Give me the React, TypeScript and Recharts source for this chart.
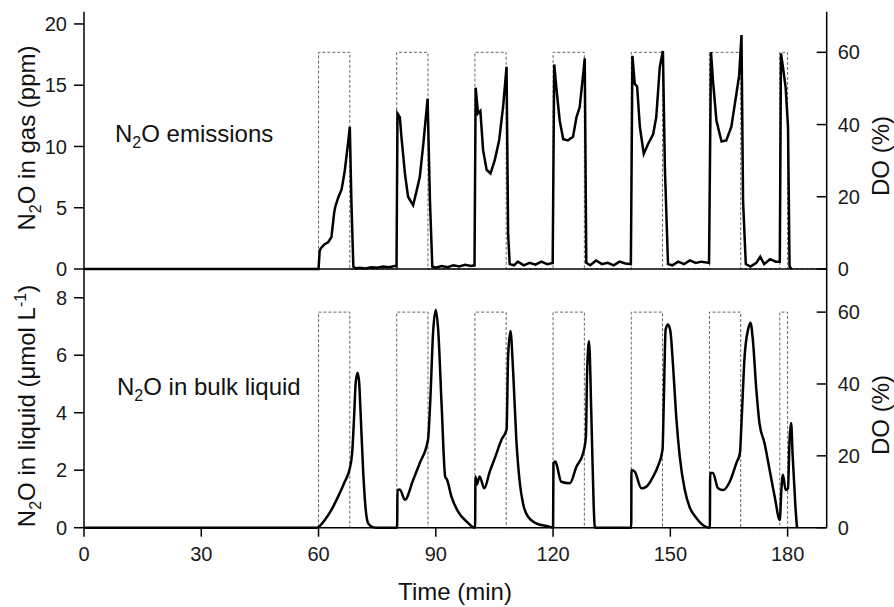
import React from "react";
import { ComposedChart, Line, XAxis, YAxis, Customized } from "recharts";

const FONT = "'Liberation Sans', Arial, Helvetica, sans-serif";

// time axis ticks
const timeTicks = [0, 30, 60, 90, 120, 150, 180];
const gasTicks = [0, 5, 10, 15, 20];
const liqTicks = [0, 2, 4, 6, 8];
const doTicks = [0, 20, 40, 60];

// N2O in gas (ppm)
const gasTime = [
  0, 60, 60.3, 60.6, 61.5, 62.5, 63.3, 64.0, 64.3, 65.0, 65.9, 66.7, 67.6, 68.0, 68.4, 68.9, 69.5, 70.5, 72, 73.5, 75, 76.5, 78, 79.5, 79.95,
  80.2, 80.8, 81.2, 82.1, 82.9, 84.2, 85.1, 85.9, 86.8, 87.9, 88.5, 89.1, 90, 91.5, 93, 94.5, 96, 97.5, 99, 99.9,
  100.2, 100.8, 101.4, 102.1, 103.0, 104.0, 105.1, 106.2, 107.2, 108.1, 108.5, 108.9, 110, 111, 112.5, 114, 115.5, 117, 118.5, 119.9,
  120.3, 120.9, 121.7, 122.6, 123.8, 125.1, 126.0, 126.8, 127.7, 128.1, 128.5, 129.5, 131, 132.5, 134, 135.5, 137, 138.5, 139.9,
  140.3, 140.9, 141.5, 142.2, 143.2, 144.3, 145.6, 146.4, 147.3, 148.1, 148.6, 149.4, 150.5, 152, 153.5, 155, 156.5, 158, 159.9,
  160.4, 160.9, 161.8, 163.1, 164.3, 165.6, 166.9, 167.6, 168.2, 168.6, 169.3, 170.5, 172, 173, 174, 175.5, 177, 178.0,
  178.3, 178.8, 179.5, 180.1, 180.5, 181,
];
const gasPpm = [
  0, 0, 1.5, 1.7, 2.0, 2.2, 2.6, 4.6, 5.1, 5.8, 6.5, 8.0, 10.4, 11.6, 5.6, 0.2, 0.05, 0.1, 0.05, 0.15, 0.1, 0.2, 0.15, 0.25, 0.2,
  12.7, 12.4, 10.8, 7.8, 5.9, 5.2, 6.4, 7.5, 10.2, 13.9, 5.6, 0.2, 0.1, 0.25, 0.15, 0.3, 0.2, 0.35, 0.25, 0.3,
  14.8, 12.7, 12.9, 9.7, 8.1, 7.8, 8.9, 10.5, 13.2, 16.5, 2.9, 0.4, 0.3, 0.6, 0.3, 0.5, 0.35, 0.6, 0.4, 0.5,
  16.7, 14.6, 12.1, 10.6, 10.5, 10.8, 12.4, 13.2, 15.9, 17.2, 0.5, 0.3, 0.7, 0.4, 0.5, 0.3, 0.6, 0.45, 0.4,
  17.4, 15.1, 14.9, 11.6, 9.4, 10.2, 11.0, 12.4, 16.5, 17.8, 8.3, 0.4, 0.3, 0.6, 0.4, 0.7, 0.5, 0.6, 0.5,
  17.7, 15.4, 12.1, 10.4, 10.5, 11.6, 14.3, 15.8, 19.1, 5.6, 0.4, 0.2, 0.5, 1.0, 0.4, 0.8, 0.6, 0.6,
  17.6, 16.5, 14.8, 11.6, 0.2, 0,
];

// N2O in bulk liquid (umol/L), lower panel
const liqTime = [
  0, 59.5, 60, 61.6, 63.3, 65.0, 66.7, 68.0, 68.6, 69.1, 69.5, 70.0, 70.4, 70.8, 71.4, 72.0, 72.7, 73.9, 75, 80.1,
  80.2, 80.8, 82.1, 84.2, 85.9, 88.0, 88.6, 89.3, 90.0, 90.6, 91.5, 92.4, 92.9, 94.0, 95.7, 97.9, 99.5, 100.05,
  100.15, 100.5, 101.2, 102.4, 103.8, 105.1, 106.8, 108.1, 108.5, 109.1, 109.8, 110.6, 111.5, 112.3, 113.6, 115.7, 119.2, 120,
  120.1, 120.6, 120.9, 122.1, 124.3, 126.0, 127.7, 128.4, 128.7, 129.2, 129.8, 130.4, 130.7, 140,
  140.05, 140.9, 142.6, 143.9, 145.6, 146.8, 148.0, 148.3, 148.8, 149.4, 150.0, 150.7, 151.5, 152.4, 153.7, 154.9, 156.7, 158.8, 160.1,
  160.2, 160.9, 162.2, 163.5, 165.2, 166.9, 167.8, 168.2, 169.0, 169.9, 170.5, 171.1, 172.0, 172.8, 174.1, 175.4, 176.7, 178.0,
  178.4, 178.8, 179.5, 180.1, 180.5, 180.9, 181.3, 182.0, 182.4,
];
const liqUmol = [
  0, 0, 0.03, 0.27, 0.62, 1.08, 1.6, 2.07, 2.6, 3.87, 5.04, 5.39, 5.04, 3.87, 2.01, 0.73, 0.15, 0.02, 0, 0,
  1.31, 1.33, 0.97, 1.66, 2.25, 3.06, 4.45, 6.78, 7.57, 6.9, 4.22, 1.78, 1.66, 1.08, 0.56, 0.21, 0.02, 0,
  1.78, 1.5, 1.78, 1.37, 1.95, 2.42, 3.06, 3.41, 5.96, 6.84, 5.39, 3.06, 1.55, 0.85, 0.38, 0.15, 0.03, 0,
  2.25, 2.3, 2.2, 1.6, 1.55, 2.13, 2.6, 3.17, 5.39, 6.49, 3.87, 0.73, 0, 0,
  2.01, 1.95, 1.37, 1.43, 1.78, 2.13, 2.71, 4.22, 6.9, 7.07, 6.84, 5.62, 3.87, 2.48, 1.31, 0.73, 0.33, 0.05, 0,
  1.9, 1.9, 1.37, 1.31, 1.6, 2.25, 2.6, 3.64, 5.96, 6.9, 7.13, 6.55, 4.8, 3.64, 2.94, 2.01, 1.08, 0.27,
  1.31, 1.84, 1.31, 1.37, 3.06, 3.64, 2.48, 0.73, 0,
];

// DO (%) aeration pattern, dashed
const doTime = [0, 60, 60, 68, 68, 80, 80, 88, 88, 100, 100, 108, 108, 120, 120, 128, 128, 140, 140, 148, 148, 160, 160, 168, 168, 178, 178, 180, 180, 190];
const doPct = [0, 0, 60, 60, 0, 0, 60, 60, 0, 0, 60, 60, 0, 0, 60, 60, 0, 0, 60, 60, 0, 0, 60, 60, 0, 0, 60, 60, 0, 0];

const gasData = gasTime.map((t, i) => ({ t, v: gasPpm[i] }));
const liqData = liqTime.map((t, i) => ({ t, v: liqUmol[i] }));
const doData = doTime.map((t, i) => ({ t, v: doPct[i] }));

const tickStyle = { fontSize: 20, fill: "#1a1a1a", fontFamily: FONT };

function RightTick(props: any) {
  const { x, y, payload } = props;
  return (
    <g>
      <line x1={x - 10} x2={x} y1={y} y2={y} stroke="#000" strokeWidth={1.5} />
      <text x={x + 11} y={y} dy="0.355em" textAnchor="start" {...tickStyle}>
        {payload.value}
      </text>
    </g>
  );
}

function TopTitles() {
  return (
    <g fontFamily={FONT} fill="#111">
      <text transform="translate(35,138) rotate(-90)" textAnchor="middle" fontSize={24}>
        N<tspan dy={6} fontSize={16}>2</tspan>
        <tspan dy={-6}>O in gas (ppm)</tspan>
      </text>
      <text transform="translate(889,156) rotate(-90)" textAnchor="middle" fontSize={24}>
        DO (%)
      </text>
      <text x={115} y={142} fontSize={24}>
        N<tspan dy={6} fontSize={16}>2</tspan>
        <tspan dy={-6}>O emissions</tspan>
      </text>
    </g>
  );
}

function BottomTitles() {
  return (
    <g fontFamily={FONT} fill="#111">
      <text transform="translate(35,137) rotate(-90)" textAnchor="middle" fontSize={24}>
        N<tspan dy={6} fontSize={16}>2</tspan>
        <tspan dy={-6}>O in liquid (μmol L</tspan>
        <tspan dy={-9} fontSize={16}>-1</tspan>
        <tspan dy={9}>)</tspan>
      </text>
      <text transform="translate(889,146) rotate(-90)" textAnchor="middle" fontSize={24}>
        DO (%)
      </text>
      <text x={117} y={126} fontSize={24}>
        N<tspan dy={6} fontSize={16}>2</tspan>
        <tspan dy={-6}>O in bulk liquid</tspan>
      </text>
      <text x={455} y={331} textAnchor="middle" fontSize={24}>
        Time (min)
      </text>
    </g>
  );
}

const axisLine = { stroke: "#000", strokeWidth: 1.5 };
const tickLine = { stroke: "#000", strokeWidth: 1.5 };

export default function App() {
  return (
    <div style={{ position: "absolute", left: 0, top: 0, width: 894, height: 607, background: "#fff" }}>
      <div style={{ position: "absolute", left: 0, top: 0 }}>
        <ComposedChart width={894} height={300} margin={{ top: 11.7, right: 0, bottom: 0, left: 0 }}>
          <XAxis
            dataKey="t"
            type="number"
            domain={[0, 190]}
            ticks={timeTicks}
            height={31}
            tick={false}
            tickSize={11}
            axisLine={axisLine}
            tickLine={tickLine}
          />
          <YAxis
            yAxisId="left"
            domain={[0, 21]}
            ticks={gasTicks}
            width={84}
            tickSize={10}
            tickMargin={7}
            tick={tickStyle}
            axisLine={axisLine}
            tickLine={tickLine}
          />
          <YAxis
            yAxisId="right"
            orientation="right"
            domain={[0, 71.25]}
            ticks={doTicks}
            width={67.3}
            tickSize={0}
            tickMargin={0}
            tick={<RightTick />}
            axisLine={axisLine}
            tickLine={false}
          />
          <Line
            yAxisId="right"
            data={doData}
            dataKey="v"
            type="linear"
            stroke="#666"
            strokeWidth={1}
            strokeDasharray="3 2"
            dot={false}
            isAnimationActive={false}
          />
          <Line
            yAxisId="left"
            data={gasData}
            dataKey="v"
            type="linear"
            stroke="#000"
            strokeWidth={2.5}
            dot={false}
            isAnimationActive={false}
          />
          <Customized component={TopTitles} />
        </ComposedChart>
      </div>
      <div style={{ position: "absolute", left: 0, top: 269 }}>
        <ComposedChart width={894} height={338} margin={{ top: 0, right: 0, bottom: 0, left: 0 }}>
          <XAxis
            dataKey="t"
            type="number"
            domain={[0, 190]}
            ticks={timeTicks}
            height={79.3}
            tickSize={9}
            tickMargin={10}
            tick={tickStyle}
            axisLine={axisLine}
            tickLine={tickLine}
          />
          <YAxis
            yAxisId="left"
            domain={[0, 9]}
            ticks={liqTicks}
            width={84}
            tickSize={10}
            tickMargin={7}
            tick={tickStyle}
            axisLine={axisLine}
            tickLine={tickLine}
          />
          <YAxis
            yAxisId="right"
            orientation="right"
            domain={[0, 72]}
            ticks={doTicks}
            width={67.3}
            tickSize={0}
            tickMargin={0}
            tick={<RightTick />}
            axisLine={axisLine}
            tickLine={false}
          />
          <Line
            yAxisId="right"
            data={doData}
            dataKey="v"
            type="linear"
            stroke="#666"
            strokeWidth={1}
            strokeDasharray="3 2"
            dot={false}
            isAnimationActive={false}
          />
          <Line
            yAxisId="left"
            data={liqData}
            dataKey="v"
            type="monotone"
            stroke="#000"
            strokeWidth={2.5}
            dot={false}
            isAnimationActive={false}
          />
          <Customized component={BottomTitles} />
        </ComposedChart>
      </div>
    </div>
  );
}
